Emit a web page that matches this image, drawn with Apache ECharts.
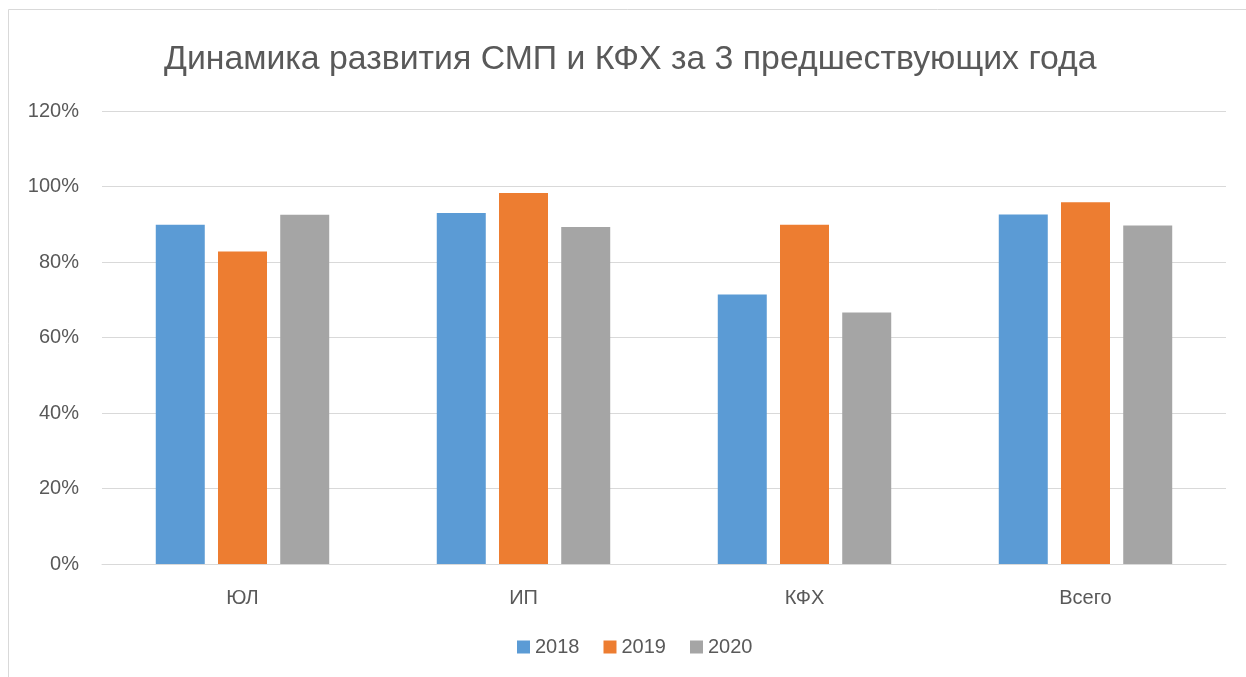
<!DOCTYPE html>
<html><head><meta charset="utf-8">
<script src="https://cdn.jsdelivr.net/npm/echarts@6/dist/echarts.min.js"></script>
<style>html,body{margin:0;padding:0;background:#fff}#c{width:1246px;height:677px}</style>
</head><body><div id="c"></div>
<script>
const categories = ['ЮЛ', 'ИП', 'КФХ', 'Всего'];
const seriesNames = ['2018', '2019', '2020'];
const values2018 = [89.9, 93.0, 71.4, 92.6];
const values2019 = [82.8, 98.3, 89.9, 95.8];
const values2020 = [92.5, 89.3, 66.6, 89.7];
const colors = ['#5b9bd5', '#ed7d31', '#a5a5a5'];
const titleText = 'Динамика развития СМП и КФХ за 3 предшествующих года';

const font = 'Liberation Sans, Arial, sans-serif';
const chart = echarts.init(document.getElementById('c'));
const data = [values2018, values2019, values2020];
chart.setOption({
  animation: false,
  backgroundColor: '#fff',
  graphic: [{type: 'rect', shape: {x: 8.5, y: 9.5, width: 1260, height: 700},
    style: {fill: 'none', stroke: '#d9d9d9', lineWidth: 1}, silent: true, z: -1}],
  title: {text: titleText, left: 159, top: 38,
    textStyle: {fontFamily: font, fontSize: 33.8, fontWeight: 'normal', color: '#595959'}},
  legend: {bottom: 15, left: 512, itemWidth: 13, itemHeight: 13, itemGap: 24, itemTextGap: 6,
    icon: 'rect', textStyle: {fontFamily: font, fontSize: 20, color: '#595959'},
    data: seriesNames},
  grid: {left: 102, right: 20, top: 111, bottom: 113},
  xAxis: {type: 'category', data: categories,
    axisLine: {lineStyle: {color: '#d9d9d9', width: 1}}, axisTick: {show: false},
    axisLabel: {fontFamily: font, fontSize: 20, color: '#595959', margin: 24}},
  yAxis: {type: 'value', min: 0, max: 120, interval: 20,
    axisLine: {show: false}, axisTick: {show: false},
    splitLine: {lineStyle: {color: '#d9d9d9', width: 1}},
    axisLabel: {fontFamily: font, fontSize: 20, color: '#595959', margin: 23, formatter: '{value}%'}},
  series: seriesNames.map((n, i) => ({
    name: n, type: 'bar', data: data[i], barWidth: 49, barGap: '27%',
    itemStyle: {color: colors[i]}
  }))
});
</script></body></html>
